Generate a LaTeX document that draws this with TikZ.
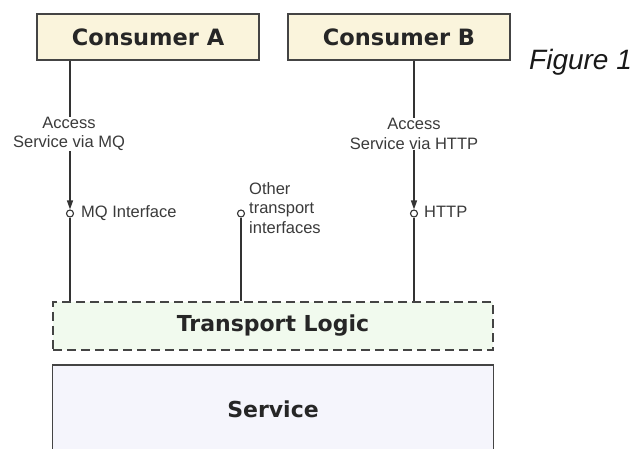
\documentclass[tikz,border=0pt]{standalone}
\usepackage{fontspec}
\setmainfont{Liberation Sans}
\newfontfamily\boxfont{DejaVu Sans}
\usetikzlibrary{arrows.meta}
\definecolor{consumerfill}{HTML}{FAF4DC}
\definecolor{transportfill}{HTML}{F1FAEE}
\definecolor{servicefill}{HTML}{F5F5FC}
\definecolor{edge}{HTML}{444444}
\definecolor{wire}{HTML}{333333}
\definecolor{labeltext}{HTML}{3A3A3A}
\tikzset{
  consumer/.style={draw=edge, line width=1.3pt, fill=consumerfill, minimum width=222pt, minimum height=46pt, inner sep=0pt, font=\boxfont\bfseries\fontsize{22.5}{26}\selectfont, text=black!85},
  transport/.style={draw=edge, line width=1.3pt, dash pattern=on 9pt off 5pt, fill=transportfill, minimum width=440pt, minimum height=48pt, inner sep=0pt, font=\boxfont\bfseries\fontsize{22}{26}\selectfont, text=black!85},
  servicebox/.style={fill=servicefill, minimum width=440pt, minimum height=100pt, inner sep=0pt},
  wirestyle/.style={draw=wire, line width=1.2pt},
  small/.style={font=\fontsize{16.5}{19.5}\selectfont, text=labeltext, inner sep=0pt},
  port/.style={circle, draw=wire, line width=1.1pt, fill=white, minimum size=7pt, inner sep=0pt},
  tip/.style={-{Triangle[length=9pt, width=6pt]}},
}
\begin{document}
\begin{tikzpicture}[x=1pt, y=-1pt]
\useasboundingbox (0,0) rectangle (635,449);

% consumers
\node[consumer] (ca) at (148,37) {Consumer A};
\node[consumer] (cb) at (399,37) {Consumer B};
\node[font=\itshape\fontsize{28}{32}\selectfont, anchor=west, inner sep=0pt, text=black!90] (fig) at (529,62) {Figure 1};

% transport layer and service
\node[transport] (tl) at (273,326) {Transport Logic};
\node[servicebox, anchor=north] (svc) at (273,365) {};
\draw[draw=edge, line width=1.3pt] (svc.south west) -- (svc.north west) -- (svc.north east) -- (svc.south east);
\node[font=\boxfont\bfseries\fontsize{22}{26}\selectfont, text=black!85] (svct) at (273,409) {Service};

% interface ports
\node[port] (pa) at (70,213.5) {};
\node[port] (po) at (241,213.5) {};
\node[port] (pb) at (414,213.5) {};

% access labels
\node[small, align=center] (la) at (69,134) {Access\\Service via MQ};
\node[small, align=center] (lb) at (414,134) {Access\\Service via HTTP};

% port labels
\node[small, anchor=west] (na) at (81,213) {MQ Interface};
\node[small, anchor=west] (nb) at (424,212) {HTTP};
\node[small, anchor=west, align=left] (no) at (249,208) {Other\\transport\\interfaces};

% anchor points on the transport layer
\coordinate (ta) at (pa |- tl.north);
\coordinate (to) at (po |- tl.north);
\coordinate (tb) at (pb |- tl.north);

% consumer A path
\draw[wirestyle] (ca.south -| pa) -- (pa |- la.north);
\draw[wirestyle, tip] (pa |- la.south) -- (pa.north);
\draw[wirestyle] (pa.south) -- (ta);

% other transports
\draw[wirestyle] (po.south) -- (to);

% consumer B path
\draw[wirestyle] (cb.south -| pb) -- (pb |- lb.north);
\draw[wirestyle, tip] (pb |- lb.south) -- (pb.north);
\draw[wirestyle] (pb.south) -- (tb);
\end{tikzpicture}
\end{document}
